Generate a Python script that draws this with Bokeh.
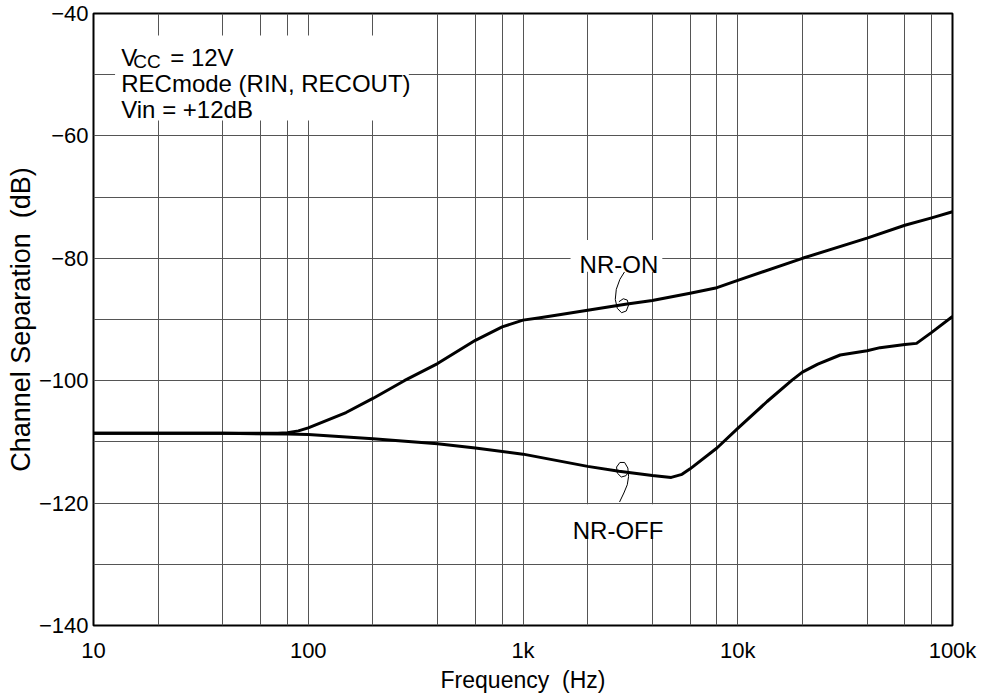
from bokeh.plotting import figure
from bokeh.models import Range1d, FixedTicker, Label, BoxAnnotation
from bokeh.embed import file_html
from bokeh.resources import INLINE

# ---- data ----
freq_on = [10, 20, 40, 60, 72, 80, 90, 100, 150, 200, 280, 400, 600, 800, 1000,
           1200, 1500, 2000, 3000, 4000, 6000, 8000, 10000, 20000, 40000, 60000,
           80000, 100000]
nr_on = [-108.6, -108.6, -108.6, -108.6, -108.6, -108.5, -108.2, -107.7, -105.2,
         -102.9, -100.0, -97.2, -93.4, -91.2, -90.1, -89.7, -89.2, -88.5, -87.5,
         -86.9, -85.7, -84.8, -83.6, -80.0, -76.7, -74.6, -73.4, -72.4]

freq_off = [10, 20, 40, 80, 100, 200, 400, 600, 1000, 2000, 2800, 4000, 4900, 5500,
            6000, 8000, 10000, 13700, 17900, 20000, 23600, 30000, 40000, 46000,
            60000, 68000, 80000, 100000]
nr_off = [-108.6, -108.6, -108.6, -108.7, -108.8, -109.5, -110.3, -111.0, -112.0,
          -114.0, -114.8, -115.5, -115.8, -115.3, -114.4, -111.0, -107.8, -103.4,
          -99.9, -98.6, -97.3, -95.8, -95.1, -94.6, -94.1, -93.9, -92.1, -89.5]

x_ticks = [10, 100, 1000, 10000, 100000]
x_tick_labels = ["10", "100", "1k", "10k", "100k"]
x_grid = [20, 40, 60, 80, 100, 200, 400, 600, 800, 1000, 2000, 4000, 6000, 8000,
          10000, 20000, 40000, 60000, 80000]
y_ticks = [-140, -120, -100, -80, -60, -40]
y_tick_labels = ["\u2212140", "\u2212120", "\u2212100", "\u221280", "\u221260", "\u221240"]
y_grid = [-130, -120, -110, -100, -90, -80, -70, -60, -50]

# leader marks (data coordinates)
lead_on_f = [2972, 2826, 2719, 2690, 2748, 2877, 3026, 3102, 3059, 2931, 2796]
lead_on_v = [-82.2, -83.44, -85.07, -86.71, -88.17, -88.89, -88.61, -87.63, -86.82, -86.61, -87.1]
lead_off_f = [2816, 2949, 3059, 3102, 3078, 2972, 2826, 2727, 2748, 2868, 3013, 3092]
lead_off_v = [-119.82, -118.35, -117.0, -115.64, -114.27, -113.36, -113.36, -114.11,
              -115.09, -115.74, -115.53, -114.99]

FONT = "Liberation Sans"

p = figure(width=988, height=700, x_axis_type="log",
           x_range=Range1d(10, 100000), y_range=Range1d(-140, -40),
           output_backend="svg", toolbar_location=None,
           min_border_left=93, min_border_right=36, min_border_top=13,
           min_border_bottom=75)
p.background_fill_color = "white"
p.border_fill_color = "white"
p.outline_line_color = "black"
p.outline_line_width = 2

# axes
for ax in (p.xaxis[0], p.yaxis[0]):
    ax.axis_line_color = None
    ax.major_tick_line_color = None
    ax.minor_tick_line_color = None
    ax.major_label_text_font = FONT
    ax.major_label_text_font_size = "22px"
    ax.major_label_text_color = "black"
    ax.axis_label_text_font = FONT
    ax.axis_label_text_font_style = "normal"
    ax.axis_label_text_color = "black"
    ax.major_tick_in = 0
    ax.major_tick_out = 0

p.xaxis.ticker = FixedTicker(ticks=x_ticks)
p.xaxis.major_label_overrides = dict(zip(x_ticks, x_tick_labels))
p.xaxis.major_label_standoff = 12
p.xaxis.axis_label = "Frequency \u00a0(Hz)"
p.xaxis.axis_label_text_font_size = "23px"
p.xaxis.axis_label_standoff = 1

p.yaxis.ticker = FixedTicker(ticks=y_ticks)
p.yaxis.major_label_overrides = dict(zip(y_ticks, y_tick_labels))
p.yaxis.major_label_standoff = 5
p.yaxis.axis_label = "Channel Separation \u00a0(dB)"
p.yaxis.axis_label_text_font_size = "27px"
p.yaxis.axis_label_standoff = 0

# grid
p.xgrid.ticker = FixedTicker(ticks=x_grid)
p.ygrid.ticker = FixedTicker(ticks=y_grid)
for g in (p.xgrid[0], p.ygrid[0]):
    g.grid_line_color = "#555555"
    g.grid_line_width = 1
    g.grid_line_alpha = 1.0

# curves
p.line(freq_on, nr_on, line_color="black", line_width=3, line_join="round")
p.line(freq_off, nr_off, line_color="black", line_width=3, line_join="round")

# leaders
p.line(lead_on_f, lead_on_v, line_color="black", line_width=1)
p.line(lead_off_f, lead_off_v, line_color="black", line_width=1)

# white backgrounds
p.add_layout(BoxAnnotation(left=12.6, right=294, top=-43.6, bottom=-57.5,
                           fill_color="white", fill_alpha=1.0, line_color=None))
p.add_layout(BoxAnnotation(left=1665, right=4454, top=-77.0, bottom=-82.2,
                           fill_color="white", fill_alpha=1.0, line_color=None))
p.add_layout(BoxAnnotation(left=1665, right=4613, top=-120.2, bottom=-125.6,
                           fill_color="white", fill_alpha=1.0, line_color=None))

def lab(x, y, text, size="24px", align="left", x_offset=0):
    p.add_layout(Label(x=x, y=y, text=text, text_font=FONT, text_font_size=size,
                       text_color="black", text_align=align,
                       text_baseline="alphabetic", x_offset=x_offset))

lab(13.46, -47.13, "V")
lab(13.46, -47.78, "CC", size="19px", x_offset=12)
lab(13.46, -47.13, "= 12V", x_offset=49)
lab(13.46, -51.37, "RECmode (RIN, RECOUT)")
lab(13.46, -55.71, "Vin = +12dB")
lab(2796, -80.95, "NR-ON", align="center")
lab(2772, -124.45, "NR-OFF", align="center")

open("out.html", "w").write(file_html(p, INLINE))
